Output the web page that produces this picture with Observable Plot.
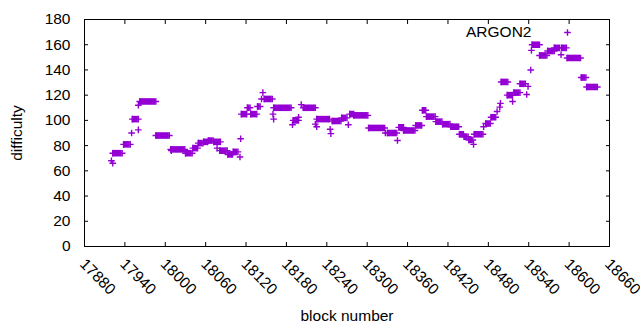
<!DOCTYPE html>
<html><head><meta charset="utf-8">
<script src="https://cdn.jsdelivr.net/npm/d3@7"></script>
<script src="https://cdn.jsdelivr.net/npm/@observablehq/plot@0.6"></script>
<style>body{margin:0;background:#fff}</style>
</head><body><div id="chart"></div>
<script>
// Runs of constant difficulty: [first block, last block, difficulty]
const runs = [
  [17922,17936,74],[17938,17948,81],[17951,17960,101],[17962,17986,115],[17986,18006,88],
  [18008,18029,77],[18030,18040,74],[18041,18048,78],[18049,18056,82],[18057,18063,83],
  [18064,18071,84],[18072,18082,83],[18081,18092,76],[18093,18100,73],[18101,18108,75],
  [18113,18121,105],[18122,18126,110],[18127,18136,105],[18137,18141,111],[18147,18159,117],
  [18161,18187,110],[18190,18198,100],[18205,18223,110],[18225,18244,101],[18248,18261,99.5],
  [18262,18270,102],[18274,18280,105],[18280,18301,104],[18302,18326,94],[18330,18344,90],
  [18347,18354,94.5],[18354,18371,92],[18372,18381,96],[18382,18387,108],[18388,18401,103],
  [18402,18411,99],[18412,18423,97],[18424,18436,95],[18437,18443,89],[18444,18450,87],
  [18451,18457,84.5],[18459,18472,89],[18476,18483,97.5],[18484,18491,102.5],[18499,18509,130.5],
  [18508,18516,120],[18518,18527,122],[18527,18535,129],[18545,18556,160],[18556,18567,151.5],
  [18568,18578,155],[18578,18586,157.5],[18589,18596,157.5],[18597,18617,149.5],[18618,18625,134],
  [18626,18642,126.5]
];
// Isolated blocks: [block, difficulty]
const singles = [
  [17920,68],[17922,66],[17950,90],[17960,92.5],[17960,112],[18009,76],[18077,78],[18111,71],
  [18112,85.5],[18143,117],[18145,122],[18160,105],[18161,101],[18189,96.5],[18198,102.5],
  [18202,112.5],[18223,97],[18225,95],[18245,93],[18246,89.5],[18272,96.5],[18327,90],[18345,84],
  [18458,81],[18473,95],[18493,107],[18497,110.5],[18498,113.5],[18516,115],[18537,120.5],
  [18539,127],[18543,140],[18544,155.5],[18588,152]
];
const xTicks = [17880,17940,18000,18060,18120,18180,18240,18300,18360,18420,18480,18540,18600,18660];
const yTicks = [0,20,40,60,80,100,120,140,160,180];
const seriesName = "ARGON2";
const color = "#9400d3";

const runRows = runs.map(([s, e, v]) => ({s, e, v}));
const pointRows = [
  ...runs.flatMap(([s, e, v]) => [{b: s, v}, {b: e, v}]),
  ...singles.map(([b, v]) => ({b, v}))
];

const plus = {
  draw(ctx, size) {
    const r = Math.sqrt(size / Math.PI);
    ctx.moveTo(-r, 0); ctx.lineTo(r, 0);
    ctx.moveTo(0, -r); ctx.lineTo(0, r);
  }
};
const R = 3.3, SW = 1.4;
const blank = () => "";

const chart = Plot.plot({
  width: 640, height: 330,
  marginLeft: 84, marginRight: 31, marginTop: 19, marginBottom: 84,
  style: {fontFamily: "'Liberation Sans', Arial, sans-serif", fontSize: "15.5px", background: "white", color: "black"},
  x: {domain: [17880, 18660]},
  y: {domain: [0, 180]},
  marks: [
    Plot.ruleY(runRows, {y: "v", x1: "s", x2: "e", stroke: color, strokeWidth: 2 * R}),
    Plot.dot(pointRows, {x: "b", y: "v", symbol: plus, r: R, stroke: color, fill: "none", strokeWidth: SW}),
    Plot.frame({stroke: "black"}),
    Plot.axisX({anchor: "bottom", ticks: xTicks, tickSize: 4, dy: -4, tickFormat: blank, label: null}),
    Plot.axisX({anchor: "top", ticks: xTicks, tickSize: 4, dy: 4, tickFormat: blank, label: null}),
    Plot.axisY({anchor: "left", ticks: yTicks, tickSize: 4, dx: 4, tickFormat: blank, label: null}),
    Plot.axisY({anchor: "right", ticks: yTicks, tickSize: 4, dx: -4, tickFormat: blank, label: null}),
    Plot.axisY({anchor: "left", ticks: yTicks, tickSize: 0, tickPadding: 14, tickFormat: d => String(d), label: null}),
    Plot.axisX({anchor: "bottom", ticks: xTicks, tickSize: 0, tickPadding: 0, tickRotate: 45,
      textAnchor: "start", lineAnchor: "middle", dx: -2, dy: 15, tickFormat: d => String(d), label: null}),
    Plot.text([seriesName], {frameAnchor: "top-right", text: d => d, textAnchor: "end", lineAnchor: "middle", dx: -78, dy: 12.5}),
    Plot.dot([seriesName], {frameAnchor: "top-right", symbol: plus, r: R, stroke: color, fill: "none", strokeWidth: SW, dx: -42, dy: 13}),
    Plot.text(["difficulty"], {frameAnchor: "left", text: d => d, rotate: -90, textAnchor: "middle", lineAnchor: "middle", dx: -67}),
    Plot.text(["block number"], {frameAnchor: "bottom", text: d => d, textAnchor: "middle", lineAnchor: "middle", dy: 70})
  ]
});
document.getElementById("chart").appendChild(chart);
</script>
</body></html>
